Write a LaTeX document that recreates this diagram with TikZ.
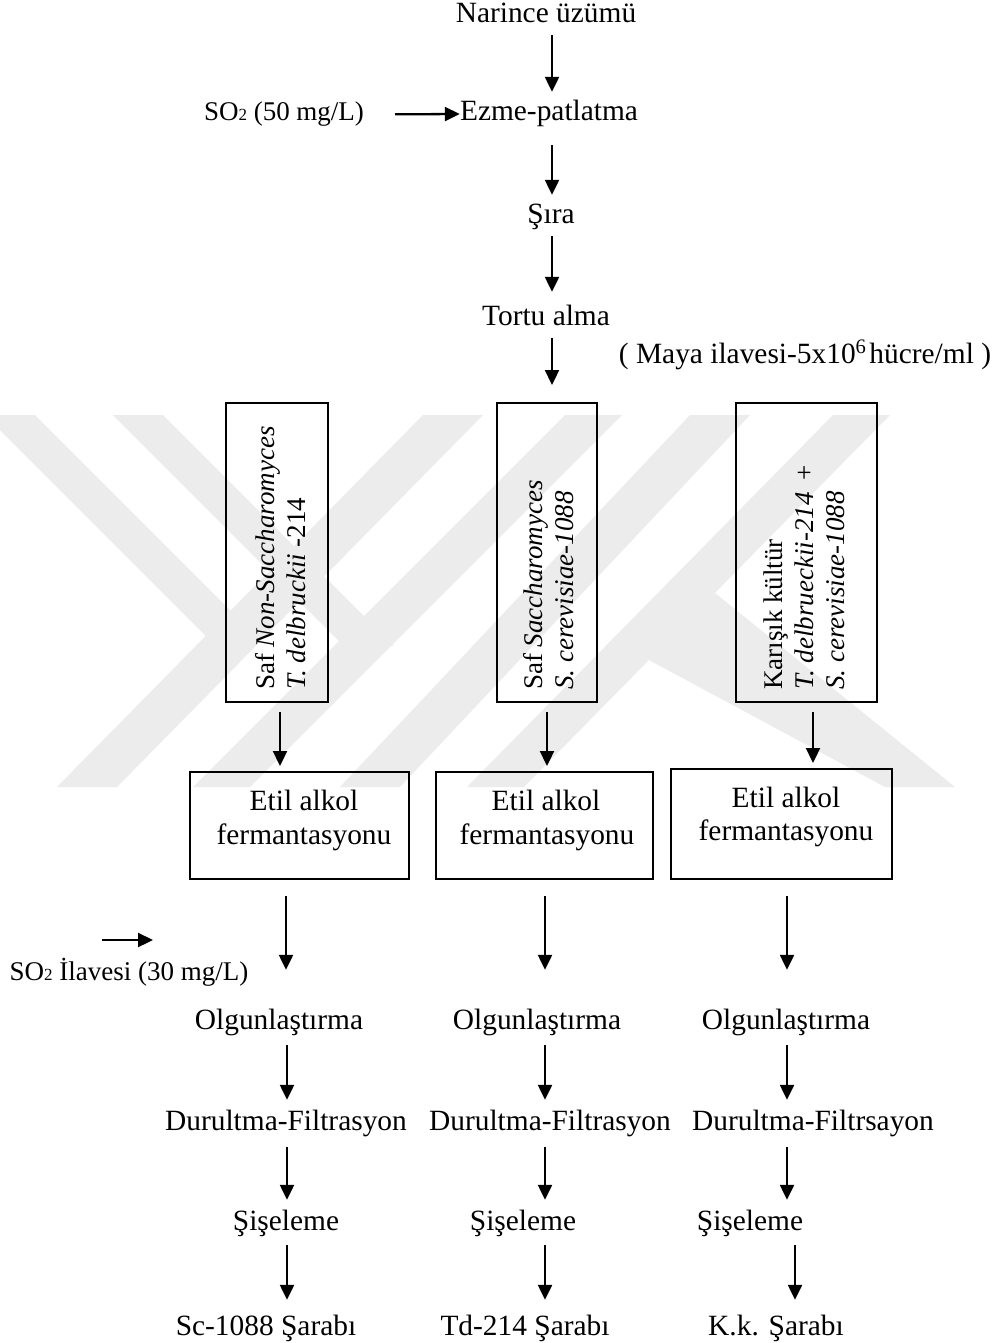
\documentclass[tikz,border=0pt]{standalone}
\usepackage{fontspec}
\setmainfont{Liberation Serif}
\usetikzlibrary{arrows.meta}
\definecolor{wm}{RGB}{236,236,236}
\tikzset{
  txt/.style={inner sep=0pt, text height=20pt, text depth=6pt, anchor=base, font=\fontsize{29.4}{34}\selectfont},
  sml/.style={inner sep=0pt, text height=19pt, text depth=6pt, anchor=base, font=\fontsize{27}{31}\selectfont},
  arr/.style={line width=2.3pt, -{Triangle[length=15pt,width=14pt]}},
  boxr/.style={draw, line width=2pt, inner sep=0pt},
  vtext/.style={rotate=90, anchor=west, align=left, inner sep=0pt, font=\fontsize{27}{31}\selectfont},
  wmark/.style={fill=wm, draw=none}
}
\newcommand{\subtwo}{{\fontsize{17}{20}\selectfont 2}}
\begin{document}
\begin{tikzpicture}[x=1pt, y=-1pt]
\useasboundingbox (0,0) rectangle (999,1343);
\fill[white] (0,0) rectangle (999,1343);
% watermark
\fill[wmark] (423,415) -- (483,415) -- (117,787) -- (57,787) -- cycle;
\fill[wmark] (565,415) -- (622,415) -- (250,787) -- (193,787) -- cycle;
\fill[wmark] (690,415) -- (750,415) -- (400,787) -- (340,787) -- cycle;
\fill[wmark] (833,415) -- (890,415) -- (524,787) -- (467,787) -- cycle;
\fill[wmark] (-15,415) -- (35,415) -- (261,641) -- (207,637) -- cycle;
\fill[wmark] (113,415) -- (163,415) -- (394,646) -- (341,643) -- cycle;
\fill[wmark] (715,593) -- (955,787) -- (885,787) -- (649,660) -- cycle;
% top chain
\node[txt] (narince) at (546,23) {Narince üzümü};
\node[txt] (ezme) at (549,121) {Ezme-patlatma};
\node[sml] (so50) at (284,121) {SO\subtwo{} (50 mg/L)};
\node[txt] (sira) at (551,223) {Şıra};
\node[txt] (tortu) at (546,325) {Tortu alma};
\node[txt] (maya) at (805,363) {( Maya ilavesi-5x10\textsuperscript{6}\hspace{0.1em}hücre/ml )};
\draw[arr, shorten <=6pt, shorten >=9pt] ([xshift=6pt]narince.south) -- ([xshift=3pt]ezme.north);
\draw[arr, shorten <=31pt] (so50.east) -- (ezme.west);
\draw[arr, shorten <=18pt, shorten >=8pt] ([xshift=3pt]ezme.south) -- ([xshift=1pt]sira.north);
\draw[arr, shorten <=7pt, shorten >=13pt] ([xshift=1pt]sira.south) -- ([xshift=6pt]tortu.north);
% yeast boxes
\node[boxr, minimum width=102pt, minimum height=299pt] (b1) at (277,552.5) {};
\node[boxr, minimum width=100pt, minimum height=299pt] (b2) at (547,552.5) {};
\node[boxr, minimum width=141pt, minimum height=299pt] (b3) at (806.5,552.5) {};
\node[vtext] (t1) at (280.5,690) {Saf \textit{Non-Saccharomyces}\\\textit{T. delbruckii} -214};
\node[vtext] (t2) at (549,690) {Saf \textit{Saccharomyces}\\\textit{S. cerevisiae-1088}};
\node[vtext] (t3) at (804,690) {Karışık kültür\\\textit{T. delbrueckii-214}\hspace{0.45em}+\\\textit{S. cerevisiae-1088}};
\draw[arr, shorten <=7pt, shorten >=17pt] ([xshift=6pt]tortu.south) -- ([xshift=5pt]b2.north);
% fermentation boxes
\node[boxr, minimum width=219pt, minimum height=107pt] (e1) at (299.5,825.5) {};
\node[boxr, minimum width=217pt, minimum height=107pt] (e2) at (544.5,825.5) {};
\node[boxr, minimum width=221pt, minimum height=110pt] (e3) at (781.5,824) {};
\node[txt] (e1a) at (304,810) {Etil alkol};
\node[txt] (e1b) at (304,844) {fermantasyonu};
\node[txt] (e2a) at (546,810) {Etil alkol};
\node[txt] (e2b) at (547,844) {fermantasyonu};
\node[txt] (e3a) at (786,807) {Etil alkol};
\node[txt] (e3b) at (786,840) {fermantasyonu};
\draw[arr, shorten <=9pt, shorten >=5pt] ([xshift=3pt]b1.south) -- ([xshift=-19.5pt]e1.north);
\draw[arr, shorten <=9pt, shorten >=5pt] (b2.south) -- ([xshift=2.5pt]e2.north);
\draw[arr, shorten <=9pt, shorten >=5pt] ([xshift=6.5pt]b3.south) -- ([xshift=31.5pt]e3.north);
% SO2 addition
\coordinate (w1) at (102,940);
\coordinate (w2) at (153,940);
\draw[arr] (w1) -- (w2);
\node[sml] (so30) at (129,980) {SO\subtwo{} İlavesi (30 mg/L)};
% lower chains
\node[txt] (o1) at (279,1029) {Olgunlaştırma};
\node[txt] (o2) at (537,1029) {Olgunlaştırma};
\node[txt] (o3) at (786,1029) {Olgunlaştırma};
\node[txt] (d1) at (286,1130) {Durultma-Filtrasyon};
\node[txt] (d2) at (550,1130) {Durultma-Filtrasyon};
\node[txt] (d3) at (813,1130) {Durultma-Filtrsayon};
\node[txt] (s1) at (286,1230) {Şişeleme};
\node[txt] (s2) at (523,1230) {Şişeleme};
\node[txt] (s3) at (750,1230) {Şişeleme};
\node[txt] (f1) at (266,1335) {Sc-1088 Şarabı};
\node[txt] (f2) at (525,1335) {Td-214 Şarabı};
\node[txt] (f3) at (776,1335) {K.k. Şarabı};
% column 1
\draw[arr, shorten <=16pt, shorten >=39pt] ([xshift=-13.5pt]e1.south) -- ([xshift=7pt]o1.north);
\draw[arr, shorten <=10pt, shorten >=10pt] ([xshift=8pt]o1.south) -- ([xshift=1pt]d1.north);
\draw[arr, shorten <=11pt, shorten >=10pt] ([xshift=1pt]d1.south) -- ([xshift=1pt]s1.north);
\draw[arr, shorten <=9pt, shorten >=15pt] ([xshift=1pt]s1.south) -- ([xshift=21pt]f1.north);
% column 2
\draw[arr, shorten <=16pt, shorten >=39pt] ([xshift=0.5pt]e2.south) -- ([xshift=8pt]o2.north);
\draw[arr, shorten <=10pt, shorten >=10pt] ([xshift=8pt]o2.south) -- ([xshift=-5pt]d2.north);
\draw[arr, shorten <=11pt, shorten >=10pt] ([xshift=-5pt]d2.south) -- ([xshift=22pt]s2.north);
\draw[arr, shorten <=9pt, shorten >=15pt] ([xshift=22pt]s2.south) -- ([xshift=20pt]f2.north);
% column 3
\draw[arr, shorten <=16pt, shorten >=39pt] ([xshift=5.5pt]e3.south) -- ([xshift=1pt]o3.north);
\draw[arr, shorten <=10pt, shorten >=10pt] ([xshift=1pt]o3.south) -- ([xshift=-26pt]d3.north);
\draw[arr, shorten <=11pt, shorten >=10pt] ([xshift=-26pt]d3.south) -- ([xshift=37pt]s3.north);
\draw[arr, shorten <=9pt, shorten >=15pt] ([xshift=45pt]s3.south) -- ([xshift=19pt]f3.north);
\end{tikzpicture}
\end{document}
